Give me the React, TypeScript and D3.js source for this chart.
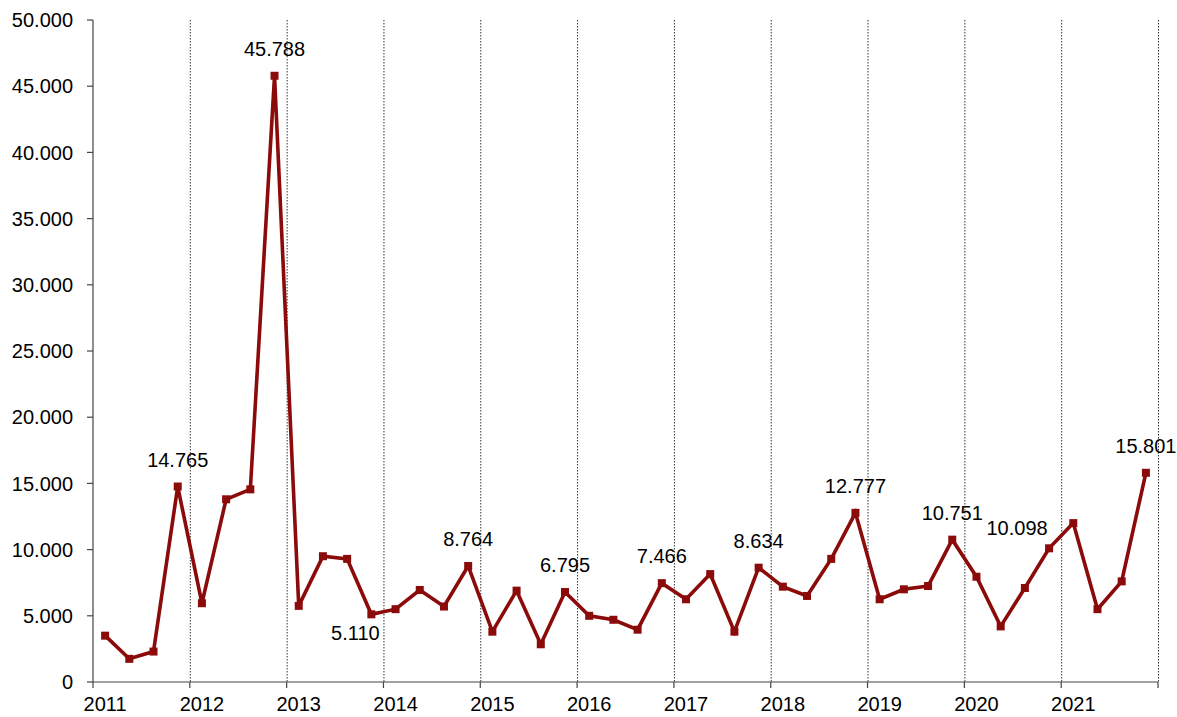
import * as d3 from 'd3';

const WIDTH = 1177;
const HEIGHT = 717;
const MARGINS = { top: 20, right: 19, bottom: 35, left: 93 };

const YEARS = [2011, 2012, 2013, 2014, 2015, 2016, 2017, 2018, 2019, 2020, 2021];
const QUARTERS = [0, 1, 2, 3];

// quarterly values, 2011Q1 .. 2021Q4
const VALUES = [
  3500, 1750, 2300, 14765,
  5950, 13800, 14550, 45788,
  5750, 9500, 9300, 5110,
  5500, 6950, 5700, 8764,
  3800, 6900, 2850, 6795,
  5000, 4700, 3950, 7466,
  6250, 8150, 3800, 8634,
  7200, 6500, 9300, 12777,
  6250, 7000, 7250, 10751,
  7950, 4200, 7100, 10098,
  12000, 5500, 7600, 15801,
];

// which points carry a value label, and where it sits
const LABELS: { index: number; dx: number; dy: number }[] = [
  { index: 3, dx: 0, dy: -20 },
  { index: 7, dx: 0, dy: -20 },
  { index: 11, dx: -16, dy: 26 },
  { index: 15, dx: 0, dy: -20 },
  { index: 19, dx: 0, dy: -20 },
  { index: 23, dx: 0, dy: -20 },
  { index: 27, dx: 0, dy: -20 },
  { index: 31, dx: 0, dy: -20 },
  { index: 35, dx: 0, dy: -20 },
  { index: 39, dx: -32, dy: -13 },
  { index: 43, dx: 0, dy: -20 },
];

const Y_TICKS = [0, 5000, 10000, 15000, 20000, 25000, 30000, 35000, 40000, 45000, 50000];

const LINE_COLOR = '#8b0a0a';
const FONT = '"Liberation Sans", Arial, sans-serif';

const locale = d3.formatLocale({
  decimal: ',',
  thousands: '.',
  grouping: [3],
  currency: ['', ''],
});
const fmt = locale.format(',d');

export default function App() {
  const x = d3
    .scaleLinear()
    .domain([2011, 2022])
    .range([MARGINS.left, WIDTH - MARGINS.right]);
  const y = d3
    .scaleLinear()
    .domain([0, 50000])
    .range([HEIGHT - MARGINS.bottom, MARGINS.top]);

  const points = VALUES.map((v, i) => {
    const year = YEARS[Math.floor(i / 4)];
    const q = QUARTERS[i % 4];
    return { t: year + (q + 0.5) / 4, v };
  });

  const line = d3
    .line<{ t: number; v: number }>()
    .x((d) => x(d.t))
    .y((d) => y(d.v));

  const gridYears = [...YEARS.slice(1), 2022];
  const y0 = y(0);

  return (
    <svg
      width={WIDTH}
      height={HEIGHT}
      style={{ position: 'absolute', left: 0, top: 0, background: '#fff' }}
      fontFamily={FONT}
    >
      {/* vertical dotted gridlines at year boundaries */}
      {gridYears.map((yr) => (
        <line
          key={yr}
          x1={x(yr) + 0.5}
          x2={x(yr) + 0.5}
          y1={y(50000)}
          y2={y0}
          stroke="#333"
          strokeWidth={1}
          strokeDasharray="1.5,1.5"
        />
      ))}

      {/* y axis */}
      <line x1={x(2011)} x2={x(2011)} y1={y(50000)} y2={y0} stroke="#444" strokeWidth={1.2} />
      {Y_TICKS.map((t) => (
        <g key={t}>
          <line x1={x(2011) - 6} x2={x(2011)} y1={y(t)} y2={y(t)} stroke="#444" strokeWidth={1.2} />
          <text x={x(2011) - 20} y={y(t)} dy="0.36em" textAnchor="end" fontSize={20} fill="#000">
            {fmt(t)}
          </text>
        </g>
      ))}

      {/* x axis */}
      <line x1={x(2011)} x2={x(2022)} y1={y0} y2={y0} stroke="#444" strokeWidth={1.2} />
      {[...YEARS, 2022].map((yr) => (
        <line key={yr} x1={x(yr)} x2={x(yr)} y1={y0} y2={y0 + 6} stroke="#444" strokeWidth={1.2} />
      ))}
      {YEARS.map((yr) => (
        <text key={yr} x={x(yr + 0.125)} y={y0 + 29} textAnchor="middle" fontSize={20} fill="#000">
          {yr}
        </text>
      ))}

      {/* series */}
      <path d={line(points) ?? ''} fill="none" stroke={LINE_COLOR} strokeWidth={3.6} strokeLinejoin="miter" />
      {points.map((p, i) => (
        <rect key={i} x={x(p.t) - 4} y={y(p.v) - 4} width={8} height={8} fill={LINE_COLOR} />
      ))}

      {/* data labels */}
      {LABELS.map((l) => {
        const p = points[l.index];
        return (
          <text
            key={l.index}
            x={x(p.t) + l.dx}
            y={y(p.v) + l.dy}
            textAnchor="middle"
            fontSize={20}
            fill="#000"
          >
            {fmt(p.v)}
          </text>
        );
      })}
    </svg>
  );
}
